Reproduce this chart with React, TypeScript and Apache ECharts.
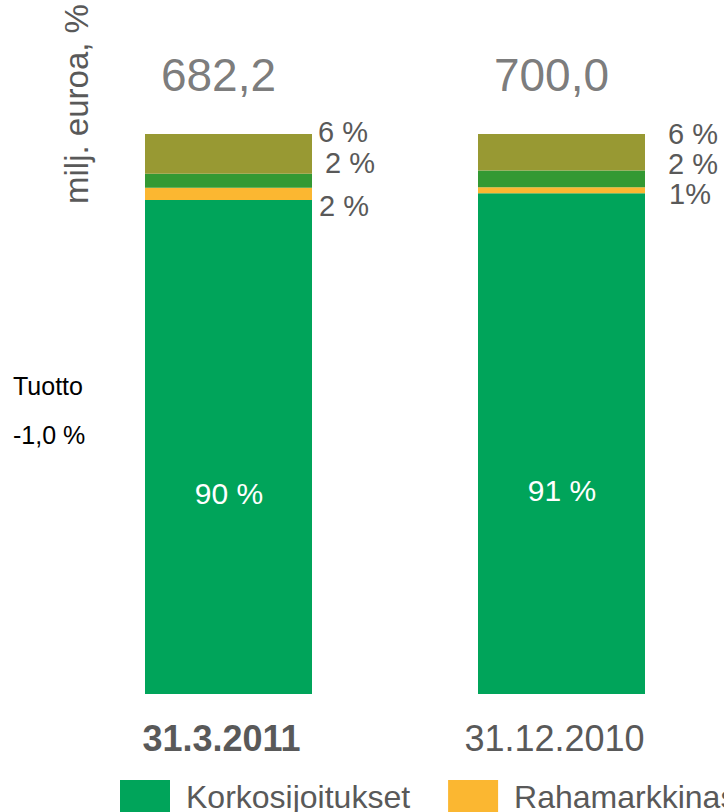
import React, { useEffect, useRef } from "react";
import * as echarts from "echarts";

const categories = ["31.3.2011", "31.12.2010"];
const totals = [682.2, 700.0];
const korkoValues = [88.2, 89.4];
const rahaValues = [2.2, 1.1];
const thirdValues = [2.5, 3.0];
const fourthValues = [7.1, 6.5];
const korkoLabels = ["90 %", "91 %"];
const rahaLabels = ["2 %", "1%"];
const thirdLabels = ["2 %", "2 %"];
const fourthLabels = ["6 %", "6 %"];

const FONT = "'Liberation Sans', Arial, sans-serif";
const GRAY = "#595959";

export default function App() {
  const ref = useRef<HTMLDivElement>(null);
  useEffect(() => {
    document.body.style.margin = "0";
    const chart = echarts.init(ref.current!, null, { renderer: "svg" });

    const sideLabel = (texts: string[], offsets: number[][]) => (vals: number[]) =>
      vals.map((v, i) => ({
        value: v,
        label: {
          show: true,
          position: "right",
          distance: 0,
          offset: offsets[i],
          formatter: texts[i],
          fontSize: 29,
          lineHeight: 22,
          color: GRAY,
          fontFamily: FONT,
        },
      }));

    chart.setOption({
      animation: false,
      grid: { left: 62, width: 666, top: 134, height: 560, outerBoundsMode: "none", containLabel: false },
      legend: {
        left: 115,
        top: 775,
        width: 1200,
        itemWidth: 50,
        itemHeight: 34,
        itemGap: 38,
        icon: "rect",
        data: ["Korkosijoitukset", "Rahamarkkinasijoitukset"],
        textStyle: {
          fontSize: 32,
          lineHeight: 26,
          color: GRAY,
          fontFamily: FONT,
          padding: [0, 0, 4, 11],
        },
        selectedMode: false,
      },
      xAxis: {
        type: "category",
        data: categories,
        axisLine: { show: false },
        axisTick: { show: false },
        axisLabel: {
          margin: 26,
          padding: [0, 14, 0, 0],
          formatter: (v: string, i: number) => (i === 0 ? `{b|${v}}` : `{n|${v}}`),
          rich: {
            b: { fontSize: 36, fontWeight: "bold", color: GRAY, fontFamily: FONT, lineHeight: 36 },
            n: { fontSize: 36, color: GRAY, fontFamily: FONT, lineHeight: 36 },
          },
        },
      },
      yAxis: { type: "value", min: 0, max: 100, show: false },
      series: [
        {
          name: "Korkosijoitukset",
          type: "bar",
          stack: "a",
          barWidth: 167,
          itemStyle: { color: "#00A45A" },
          data: korkoValues.map((v, i) => ({
            value: v,
            label: {
              show: true,
              position: "inside",
              offset: [0.5, 46.5],
              formatter: korkoLabels[i],
              fontSize: 30,
              color: "#ffffff",
              fontFamily: FONT,
            },
          })),
        },
        {
          name: "Rahamarkkinasijoitukset",
          type: "bar",
          stack: "a",
          barWidth: 167,
          itemStyle: { color: "#FBB731" },
          data: sideLabel(rahaLabels, [[7, 12.5], [24, 4]])(rahaValues),
        },
        {
          name: "Osakesijoitukset",
          type: "bar",
          stack: "a",
          barWidth: 167,
          itemStyle: { color: "#339933" },
          data: sideLabel(thirdLabels, [[13, -17.5], [23, -15]])(thirdValues),
        },
        {
          name: "Muut sijoitukset",
          type: "bar",
          stack: "a",
          barWidth: 167,
          itemStyle: { color: "#989933" },
          data: sideLabel(fourthLabels, [[6, -22], [23, -18]])(fourthValues),
        },
        {
          name: "Yhteensä",
          type: "scatter",
          symbolSize: 1,
          itemStyle: { color: "rgba(0,0,0,0)" },
          data: totals.map(() => 100),
          label: {
            show: true,
            position: "inside",
            offset: [-10, -59],
            formatter: (p: any) => totals[p.dataIndex].toFixed(1).replace(".", ","),
            fontSize: 46,
            color: GRAY,
            fontFamily: FONT,
          },
        },
      ],
      graphic: [
        {
          type: "text",
          x: 76,
          y: 104,
          rotation: Math.PI / 2,
          style: {
            text: "milj. euroa, %",
            fontSize: 33,
            fill: GRAY,
            fontFamily: FONT,
            align: "center",
            verticalAlign: "middle",
          },
        },
        {
          type: "text",
          x: 13,
          y: 386,
          style: { text: "Tuotto", fontSize: 25, fill: "#000000", fontFamily: FONT, verticalAlign: "middle" },
        },
        {
          type: "text",
          x: 13,
          y: 435,
          style: { text: "-1,0 %", fontSize: 25, fill: "#000000", fontFamily: FONT, verticalAlign: "middle" },
        },
      ],
    });
    return () => chart.dispose();
  }, []);
  return <div ref={ref} style={{ width: 724, height: 812 }} />;
}
